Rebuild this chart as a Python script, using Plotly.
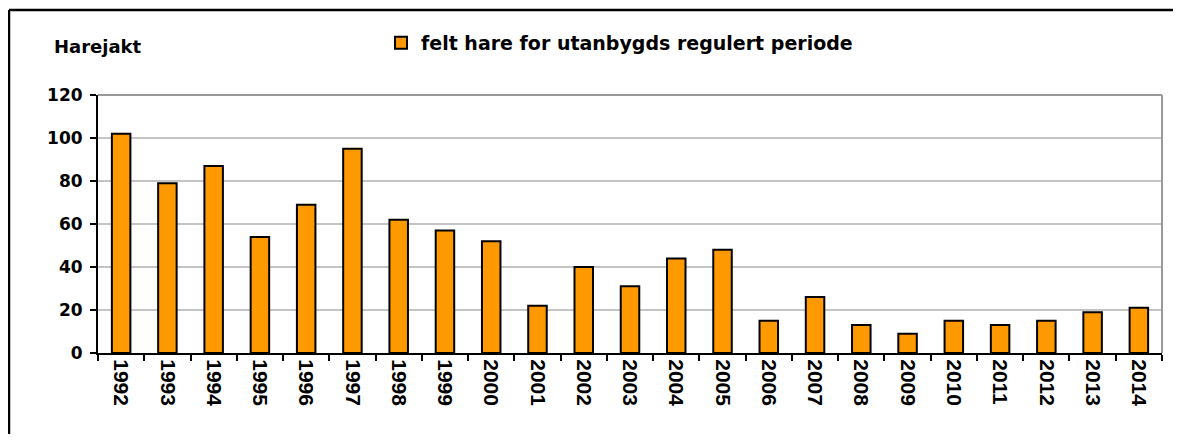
import plotly.graph_objects as go

years = [str(y) for y in range(1992, 2015)]
felt_hare = [102, 79, 87, 54, 69, 95, 62, 57, 52, 22, 40, 31, 44, 48, 15, 26, 13, 9, 15, 13, 15, 19, 21]
series_name = "felt hare for utanbygds regulert periode"
y_ticks = [0, 20, 40, 60, 80, 100, 120]

ARIAL = "Liberation Sans, Arial, sans-serif"
WIDE = "DejaVu Sans, Liberation Sans, sans-serif"

# page body has an 8px margin on every side; keep the figure small enough to avoid scrollbars
OFF = 8
W, H = 1182 - 2 * OFF, 445 - 2 * OFF - 2
L, T = 98 - OFF, 95 - OFF
R = W - (1162 - OFF)
B = H - (353 - OFF)
pw, ph = W - L - R, H - T - B


def px_x(x):
    return (x - OFF - L) / pw


def px_y(y):
    return (H - B - (y - OFF)) / ph


fig = go.Figure()
fig.add_trace(go.Bar(
    x=years, y=felt_hare, name=series_name,
    marker=dict(color="#FF9900", line=dict(color="black", width=2)),
    showlegend=True,
))

right_edge = OFF + W - 1
bottom_edge = OFF + H - 1

fig.update_layout(
    width=W, height=H,
    margin=dict(l=L, r=R, t=T, b=B),
    paper_bgcolor="white", plot_bgcolor="white",
    bargap=0.6,
    font=dict(family=ARIAL, color="black", size=17),
    showlegend=True,
    legend=dict(
        orientation="h", x=px_x(381), y=px_y(43), xanchor="left", yanchor="middle",
        font=dict(family=WIDE, size=19, weight="bold", color="black"),
        itemwidth=30, bgcolor="rgba(0,0,0,0)",
    ),
    xaxis=dict(
        type="category", tickangle=90, tickson="boundaries",
        ticks="outside", ticklen=6, tickwidth=2, tickcolor="black",
        showline=True, linecolor="black", linewidth=2,
        tickfont=dict(family=ARIAL, size=21, weight="bold", color="black"),
        showgrid=False,
    ),
    yaxis=dict(
        range=[0, 120], tickvals=y_ticks,
        ticks="outside", ticklen=6, tickwidth=2, tickcolor="black",
        showline=True, linecolor="black", linewidth=2,
        showgrid=True, gridcolor="#c4c4c4", gridwidth=2,
        zeroline=False, ticklabelstandoff=4,
        tickfont=dict(family=WIDE, size=17, weight="bold", color="black"),
    ),
    annotations=[dict(
        text="<b>Harejakt</b>", xref="paper", yref="paper",
        x=px_x(52), y=px_y(46), xanchor="left", yanchor="middle",
        showarrow=False, font=dict(family=WIDE, size=18, color="black"),
    )],
    shapes=[
        # outer chart frame (only left and top edges fall inside the picture)
        dict(type="line", xref="paper", yref="paper",
             x0=px_x(9), y0=px_y(10), x1=px_x(right_edge), y1=px_y(10),
             line=dict(color="black", width=2.5), layer="below"),
        dict(type="line", xref="paper", yref="paper",
             x0=px_x(9), y0=px_y(10), x1=px_x(9), y1=px_y(bottom_edge),
             line=dict(color="black", width=2.5), layer="below"),
        # plot area top/right border
        dict(type="line", xref="paper", yref="paper", x0=0, y0=1, x1=1, y1=1,
             line=dict(color="#9a9a9a", width=2)),
        dict(type="line", xref="paper", yref="paper", x0=1, y0=0, x1=1, y1=1,
             line=dict(color="#9a9a9a", width=2)),
    ],
)

fig.write_html("out.html")
